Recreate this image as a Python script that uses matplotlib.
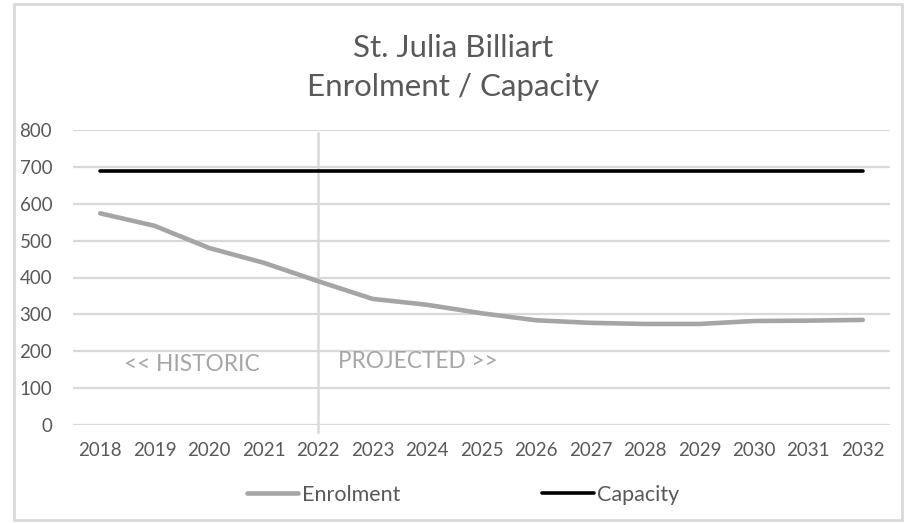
import matplotlib
matplotlib.use("Agg")
import matplotlib.pyplot as plt
from matplotlib.patches import Rectangle

years = ["2018", "2019", "2020", "2021", "2022", "2023", "2024", "2025",
         "2026", "2027", "2028", "2029", "2030", "2031", "2032"]
enrolment = [574, 540, 480, 440, 390, 342, 326, 303, 284, 277, 274, 274, 282, 283, 285]
capacity = [690] * len(years)
yticks = [0, 100, 200, 300, 400, 500, 600, 700, 800]

plt.rcParams['font.family'] = ['Lato', 'DejaVu Sans']
TXT = '#595959'
GRID = '#d9d9d9'

fig = plt.figure(figsize=(9.06, 5.23), dpi=100)
ax = fig.add_axes([73/906, (523-425)/523, (890-73)/906, (425-130)/523])

x = list(range(len(years)))
ax.plot(x, enrolment, color='#a5a5a5', lw=3.3, solid_capstyle='round',
        solid_joinstyle='round', label='Enrolment', zorder=3)
ax.plot(x, capacity, color='black', lw=2.6, solid_capstyle='round',
        label='Capacity', zorder=3)

ax.set_xlim(-0.5, len(years) - 0.5)
ax.set_ylim(0, 800)
ax.set_yticks(yticks)
ax.set_xticks(x)
ax.set_xticklabels(years)
ax.tick_params(axis='both', length=0, colors=TXT, labelsize=13.5)
ax.tick_params(axis='x', pad=12)
ax.tick_params(axis='y', pad=15)
ax.yaxis.grid(True, color=GRID, lw=1.6)
ax.set_axisbelow(True)
for s in ax.spines.values():
    s.set_visible(False)

# divider between historic and projected
ax.axvline(4, ymin=-0.025, ymax=0.99, color=GRID, lw=1.8, clip_on=False, zorder=2)
ax.text(0.44, 165, "<< HISTORIC", color='#a6a6a6', fontsize=16.3, va='center', ha='left')
ax.text(4.36, 171, "PROJECTED >>", color='#a6a6a6', fontsize=16.3, va='center', ha='left')

fig.text(0.5, 1 - 57/523, "St. Julia Billiart", ha='center', va='baseline',
         fontsize=22.5, color=TXT)
fig.text(0.5, 1 - 96/523, "Enrolment / Capacity", ha='center', va='baseline',
         fontsize=22.5, color=TXT)

leg = fig.legend(loc='center', bbox_to_anchor=(463/906, 1 - 495/523), ncol=2,
                 frameon=False, fontsize=15.5, labelcolor=TXT, handlelength=2.4,
                 handletextpad=0.15, columnspacing=6.6)

fig.patches.append(Rectangle((14/906, 3/523), (902-14)/906, (519-3)/523,
                             transform=fig.transFigure, fill=False,
                             edgecolor=GRID, lw=2))

fig.savefig("out.png", dpi=100, facecolor='white')
